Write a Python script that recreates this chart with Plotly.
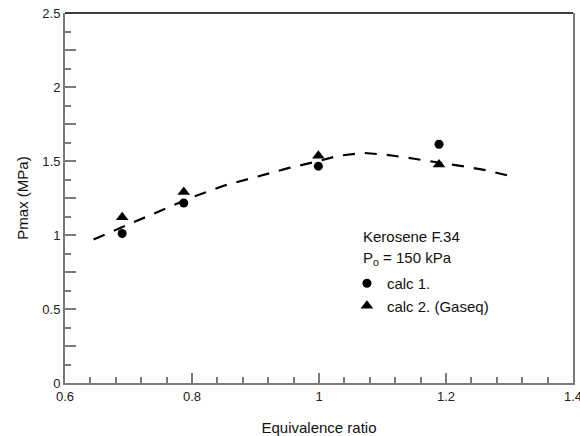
import plotly.graph_objects as go

# Data
calc1_x = [0.69, 0.787, 0.999, 1.189]
calc1_y = [1.01, 1.216, 1.465, 1.613]
calc2_x = [0.69, 0.787, 0.999, 1.189]
calc2_y = [1.12, 1.29, 1.535, 1.477]
fit_x = [0.645, 0.70, 0.75, 0.80, 0.85, 0.90, 0.95, 1.00, 1.03, 1.07, 1.11, 1.15, 1.19, 1.23, 1.26, 1.30]
fit_y = [0.97, 1.07, 1.165, 1.255, 1.333, 1.393, 1.45, 1.50, 1.535, 1.555, 1.54, 1.515, 1.49, 1.462, 1.44, 1.40]

y_tickvals = [0, 0.25, 0.5, 0.75, 1, 1.25, 1.5, 1.75, 2, 2.25, 2.5]
y_ticktext = ["0", " ", "0.5", " ", "1", " ", "1.5", " ", "2", " ", "2.5"]
x_tickvals = [0.6, 0.8, 1.0, 1.2, 1.4]
x_ticktext = ["0.6", "0.8", "1", "1.2", "1.4"]

FONT = "Liberation Sans, Arial, Helvetica, sans-serif"
AX = "#7a7a7a"

fig = go.Figure()
fig.add_trace(go.Scatter(x=fit_x, y=fit_y, mode="lines", showlegend=False,
                         line=dict(color="black", width=2.2, dash="12px,10px"),
                         hoverinfo="skip"))
fig.add_trace(go.Scatter(x=calc1_x, y=calc1_y, mode="markers", name="calc 1.",
                         marker=dict(symbol="circle", size=9, color="black"),
                         legend="legend"))
fig.add_trace(go.Scatter(x=calc2_x, y=calc2_y, mode="markers", name="calc 2. (Gaseq)",
                         marker=dict(symbol="triangle-up", size=11, color="black"),
                         legend="legend2"))

legend_common = dict(font=dict(family=FONT, size=15, color="#111"),
                     bgcolor="rgba(0,0,0,0)", borderwidth=0,
                     xanchor="left", yanchor="middle")

fig.update_layout(
    width=580, height=436,
    margin=dict(l=65, r=7, t=13, b=53),
    paper_bgcolor="white", plot_bgcolor="white",
    font=dict(family=FONT, size=13, color="#222"),
    legend=dict(x=0.555, y=0.269, **legend_common),
    legend2=dict(x=0.555, y=0.208, **legend_common),
    xaxis=dict(range=[0.6, 1.4], tickvals=x_tickvals, ticktext=x_ticktext,
               ticks="inside", ticklen=10, tickwidth=1.5, tickcolor=AX,
               minor=dict(dtick=0.04, ticks="inside", ticklen=6, tickwidth=1.5, tickcolor=AX),
               showline=True, linecolor=AX, linewidth=2, showgrid=False, zeroline=False,
               ticklabeloverflow="allow", automargin=False,
               tickfont=dict(size=13, color="#222"),
               title=dict(text="Equivalence ratio", font=dict(size=15, color="#111"), standoff=29)),
    yaxis=dict(range=[0, 2.5], tickvals=y_tickvals, ticktext=y_ticktext,
               ticks="inside", ticklen=11, tickwidth=1.5, tickcolor=AX,
               minor=dict(dtick=0.125, ticks="inside", ticklen=6, tickwidth=1.5, tickcolor=AX),
               showline=True, linecolor=AX, linewidth=2, mirror=True,
               showgrid=False, zeroline=False,
               ticklabeloverflow="allow", automargin=False,
               tickfont=dict(size=13, color="#222"),
               title=dict(text="Pmax (MPa)", font=dict(size=15, color="#111"), standoff=10)),
    shapes=[dict(type="line", xref="paper", yref="paper", x0=0, x1=1, y0=1, y1=1,
                 line=dict(color="black", width=1.5))],
    annotations=[
        dict(text="Kerosene F.34", xref="paper", yref="paper", x=0.5827, y=0.396,
             xanchor="left", yanchor="middle", showarrow=False,
             font=dict(size=15, color="#111")),
        dict(text="P<sub>o</sub> = 150 kPa", xref="paper", yref="paper", x=0.5827, y=0.3355,
             xanchor="left", yanchor="middle", showarrow=False,
             font=dict(size=15, color="#111")),
    ],
)

fig.write_html("out.html")
